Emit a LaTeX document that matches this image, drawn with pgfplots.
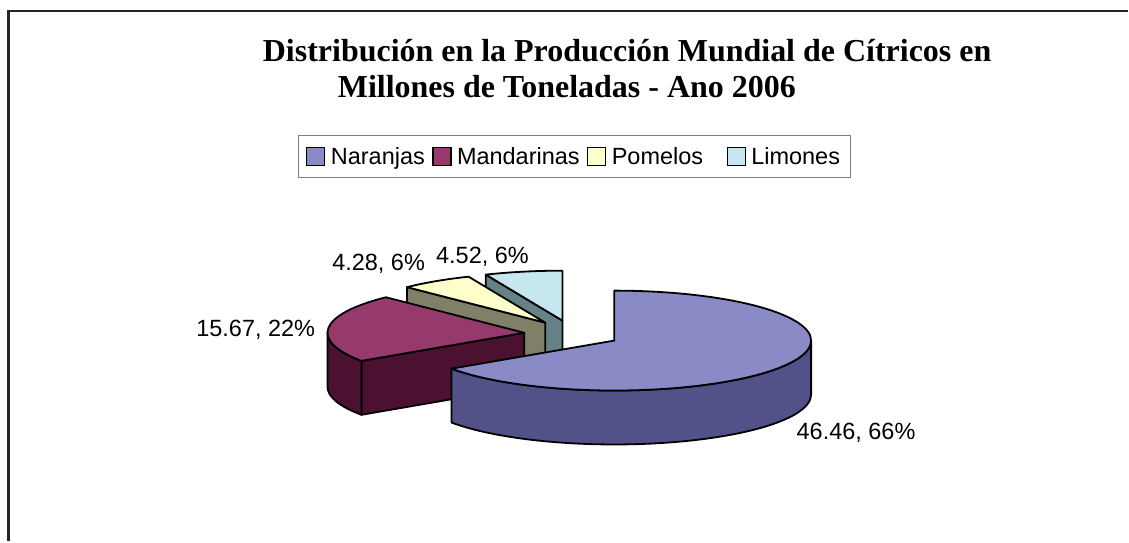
\documentclass[border=0pt]{standalone}
\usepackage{fontspec}
\setmainfont{Liberation Sans}
\newfontfamily\titlefont{Liberation Serif}
\usepackage{pgfplots}
\usepackage{pgfplotstable}
\pgfplotsset{compat=1.18}

\definecolor{nTop}{RGB}{138,138,198}
\definecolor{nSide}{RGB}{82,82,136}
\definecolor{mTop}{RGB}{150,58,110}
\definecolor{mSide}{RGB}{74,18,48}
\definecolor{pTop}{RGB}{255,255,204}
\definecolor{pSide}{RGB}{128,128,104}
\definecolor{lTop}{RGB}{198,230,240}
\definecolor{lSide}{RGB}{102,130,134}

\pgfplotstableread{
name value
Naranjas 46.46
Mandarinas 15.67
Pomelos 4.28
Limones 4.52
}\citrus

\newcommand{\lblfont}{\fontsize{23.5}{28}\selectfont}
\tikzset{pieedge/.style={draw=black,line width=1.8pt,line join=round}}
\pgfplotsset{sqleg/.style={legend image code/.code={\filldraw[##1,draw=black,line width=1.2pt] (0pt,-9pt) rectangle (18pt,9pt);}}}

% geometry of the projected pie (axis units = pt)
\def\cx{572.6}\def\cy{207.5}\def\ra{197}\def\rb{50}\def\hh{54}\def\exx{48}\def\eyy{13.8}

\newcommand{\pieslice}[4]{%
 \pgfmathsetmacro{\mA}{((#1)+(#2))/2}%
 \pgfmathsetmacro{\ox}{\cx+\exx*cos(\mA)}%
 \pgfmathsetmacro{\oy}{\cy+\eyy*sin(\mA)}%
 \pgfmathsetmacro{\oyb}{\oy-\hh}%
 \pgfmathsetmacro{\ax}{\ox+\ra*cos(#1)}%
 \pgfmathsetmacro{\ay}{\oy+\rb*sin(#1)}%
 \pgfmathsetmacro{\ayb}{\ay-\hh}%
 \pgfmathsetmacro{\bx}{\ox+\ra*cos(#2)}%
 \pgfmathsetmacro{\by}{\oy+\rb*sin(#2)}%
 \pgfmathsetmacro{\byb}{\by-\hh}%
 \pgfmathtruncatemacro{\visB}{cos(#2)<-0.01}%
 \pgfmathtruncatemacro{\visA}{cos(#1)>0.01}%
 \pgfmathsetmacro{\fsA}{max(#1,-180)}%
 \pgfmathsetmacro{\feA}{min(#2,0)}%
 \pgfmathtruncatemacro{\fvA}{(\feA)-(\fsA)>0.01}%
 \pgfmathsetmacro{\fsB}{max(#1,180)}%
 \pgfmathsetmacro{\feB}{min(#2,360)}%
 \pgfmathtruncatemacro{\fvB}{(\feB)-(\fsB)>0.01}%
 \pgfmathsetmacro{\sxA}{\ox+\ra*cos(\fsA)}%
 \pgfmathsetmacro{\syA}{\oy+\rb*sin(\fsA)}%
 \pgfmathsetmacro{\exA}{\ox+\ra*cos(\feA)}%
 \pgfmathsetmacro{\eybA}{\oy+\rb*sin(\feA)-\hh}%
 \pgfmathsetmacro{\sxB}{\ox+\ra*cos(\fsB)}%
 \pgfmathsetmacro{\syB}{\oy+\rb*sin(\fsB)}%
 \pgfmathsetmacro{\exB}{\ox+\ra*cos(\feB)}%
 \pgfmathsetmacro{\eybB}{\oy+\rb*sin(\feB)-\hh}%
 \edef\slicecmd{%
  \ifnum\visB=1 \noexpand\filldraw[fill=#4,pieedge] (axis cs:\ox,\oy) -- (axis cs:\bx,\by) -- (axis cs:\bx,\byb) -- (axis cs:\ox,\oyb) -- cycle;\fi
  \ifnum\visA=1 \noexpand\filldraw[fill=#4,pieedge] (axis cs:\ox,\oy) -- (axis cs:\ax,\ay) -- (axis cs:\ax,\ayb) -- (axis cs:\ox,\oyb) -- cycle;\fi
  \ifnum\fvA=1 \noexpand\filldraw[fill=#4,pieedge] (axis cs:\sxA,\syA) arc[start angle=\fsA,end angle=\feA,x radius=\ra pt,y radius=\rb pt] -- (axis cs:\exA,\eybA) arc[start angle=\feA,end angle=\fsA,x radius=\ra pt,y radius=\rb pt] -- cycle;\fi
  \ifnum\fvB=1 \noexpand\filldraw[fill=#4,pieedge] (axis cs:\sxB,\syB) arc[start angle=\fsB,end angle=\feB,x radius=\ra pt,y radius=\rb pt] -- (axis cs:\exB,\eybB) arc[start angle=\feB,end angle=\fsB,x radius=\ra pt,y radius=\rb pt] -- cycle;\fi
  \noexpand\filldraw[fill=#3,pieedge] (axis cs:\ox,\oy) -- (axis cs:\ax,\ay) arc[start angle=#1,end angle=#2,x radius=\ra pt,y radius=\rb pt] -- cycle;
 }\slicecmd
}

\begin{document}
\begin{tikzpicture}
\pgfplotstablegetelem{0}{value}\of\citrus \let\vN\pgfplotsretval
\pgfplotstablegetelem{1}{value}\of\citrus \let\vM\pgfplotsretval
\pgfplotstablegetelem{2}{value}\of\citrus \let\vP\pgfplotsretval
\pgfplotstablegetelem{3}{value}\of\citrus \let\vL\pgfplotsretval
\pgfmathsetmacro{\tot}{\vN+\vM+\vP+\vL}
\pgfmathsetmacro{\tN}{90-360*(\vN/\tot)}
\pgfmathsetmacro{\tM}{\tN-360*(\vM/\tot)}
\pgfmathsetmacro{\tP}{\tM-360*(\vP/\tot)}
\pgfmathsetmacro{\tL}{\tP-360*(\vL/\tot)}
\begin{axis}[
  scale only axis, width=1129pt, height=542pt,
  xmin=0, xmax=1129, ymin=0, ymax=542, enlargelimits=false,
  hide axis, clip=false,
  legend columns=-1,
  legend style={at={(0.2640,0.7509)}, anchor=north west, draw=gray, line width=1pt,
    font=\lblfont, inner xsep=8pt, inner ysep=10pt, cells={anchor=west},
    nodes={inner sep=2pt},
    /tikz/every even column/.append style={column sep=5.5pt},
    /tikz/every odd column/.append style={column sep=3.5pt}},
]
\addlegendimage{sqleg,fill=nTop}\addlegendentry{Naranjas}
\addlegendimage{sqleg,fill=mTop}\addlegendentry{Mandarinas}
\addlegendimage{sqleg,fill=pTop}\addlegendentry{Pomelos\hspace*{16pt}\mbox{}}
\addlegendimage{sqleg,fill=lTop}\addlegendentry{Limones}

\draw[line width=2.5pt, black!85] (axis cs:8.5,0) -- (axis cs:8.5,531) -- (axis cs:1129,531);

\pieslice{\tL}{\tP}{lTop}{lSide}
\pieslice{\tP}{\tM}{pTop}{pSide}
\pieslice{\tM}{\tN}{mTop}{mSide}
\pieslice{\tN}{90}{nTop}{nSide}

\node[font=\lblfont] at (axis cs:857,109) {46.46, 66\%};
\node[font=\lblfont] at (axis cs:256,212) {15.67, 22\%};
\node[font=\lblfont] at (axis cs:379,278) {4.28, 6\%};
\node[font=\lblfont] at (axis cs:483,285) {4.52, 6\%};

\node[anchor=base west, inner sep=0pt, font=\titlefont\bfseries\fontsize{32}{36}\selectfont] at (axis cs:263,480) {Distribución en la Producción Mundial de Cítricos en};
\node[anchor=base west, inner sep=0pt, font=\titlefont\bfseries\fontsize{32}{36}\selectfont] at (axis cs:338,444) {Millones de Toneladas - Ano 2006};
\end{axis}
\path (current axis.south west) rectangle (current axis.north east);
\end{tikzpicture}
\end{document}
